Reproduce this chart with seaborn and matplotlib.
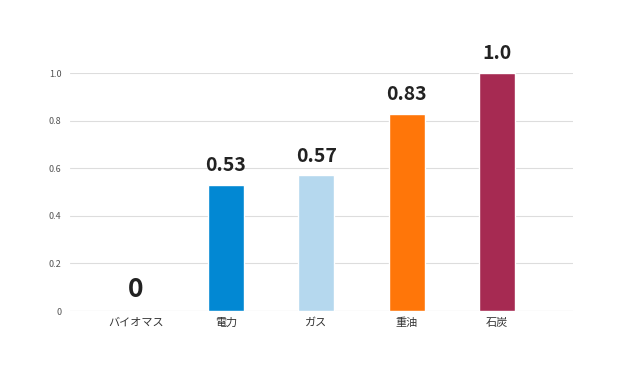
import matplotlib
matplotlib.use("Agg")
import matplotlib.pyplot as plt
import seaborn as sns
import pandas as pd

# エネルギー源別の値
categories = ["バイオマス", "電力", "ガス", "重油", "石炭"]
values = [0, 0.53, 0.57, 0.83, 1.0]
value_labels = ["0", "0.53", "0.57", "0.83", "1.0"]
colors = ["#ffffff", "#0288d3", "#b5d8ee", "#ff7609", "#a62a52"]
y_ticks = [0, 0.2, 0.4, 0.6, 0.8, 1.0]
y_tick_labels = ["0", "0.2", "0.4", "0.6", "0.8", "1.0"]

sns.set_style("white")
plt.rcParams["font.family"] = ["Noto Sans CJK JP", "DejaVu Sans"]

df = pd.DataFrame({"source": categories, "value": values})

fig = plt.figure(figsize=(6.4, 3.69), dpi=100)
ax = fig.add_axes([0.109, 0.157, 0.786, 0.645])

sns.barplot(data=df, x="source", y="value", hue="source", palette=colors,
            width=0.4, legend=False, saturation=1, ax=ax)

ax.set_ylim(0, 1.0)
ax.set_xlim(-0.73, 4.84)
ax.set_yticks(y_ticks)
ax.set_yticklabels(y_tick_labels)
ax.yaxis.grid(True, color="#dddddd", linewidth=0.8)
ax.set_axisbelow(True)
for s in ax.spines.values():
    s.set_visible(False)
ax.axhline(0, color="#dddddd", linewidth=0.8, zorder=0)

ax.tick_params(axis="y", length=0, labelsize=6.5, labelcolor="#555555", pad=6)
ax.tick_params(axis="x", length=0, labelsize=8, labelcolor="#333333", pad=5)
ax.set_xlabel("")
ax.set_ylabel("")

for i, (v, lab) in enumerate(zip(values, value_labels)):
    size = 19 if v == 0 else 14
    ax.annotate(lab, (i, v), xytext=(0, 10), textcoords="offset points",
                ha="center", va="baseline", fontsize=size, fontweight="bold",
                color="#222222", annotation_clip=False)

fig.savefig("out.png", dpi=100)
